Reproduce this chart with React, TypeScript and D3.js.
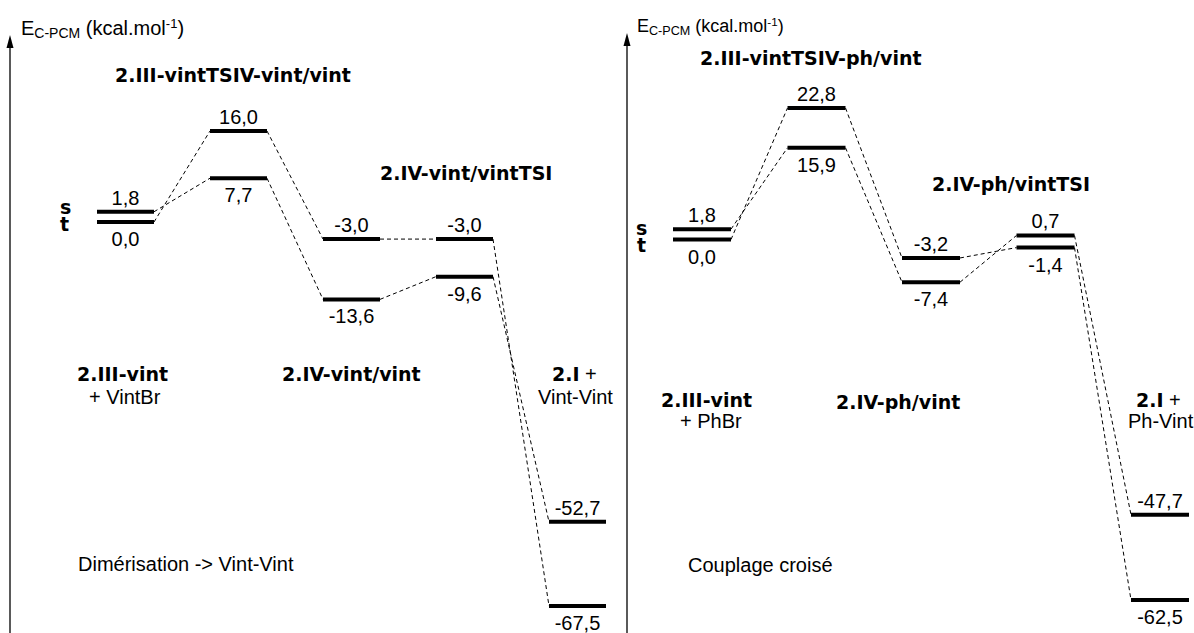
import React from "react";
import * as d3 from "d3";

// ---- data ----
const stages = [0, 1, 2, 3, 4];
const leftUpper = [1.8, 16.0, -3.0, -3.0, -52.7];
const leftLower = [0.0, 7.7, -13.6, -9.6, -67.5];
const rightUpper = [1.8, 22.8, -3.2, 0.7, -47.7];
const rightLower = [0.0, 15.9, -7.4, -1.4, -62.5];
// links from stage i (series) to stage i+1 (series)
const leftLinks: [number, string, string][] = [
  [0, "lower", "upper"], [0, "upper", "lower"],
  [1, "upper", "upper"], [1, "lower", "lower"],
  [2, "upper", "upper"], [2, "lower", "lower"],
  [3, "upper", "lower"], [3, "lower", "upper"],
];
const rightLinks: [number, string, string][] = [
  [0, "lower", "upper"], [0, "upper", "lower"],
  [1, "upper", "upper"], [1, "lower", "lower"],
  [2, "upper", "lower"], [2, "lower", "upper"],
  [3, "upper", "upper"], [3, "lower", "lower"],
];

const fmt = d3.formatLocale({ decimal: ",", thousands: " ", grouping: [3], currency: ["", ""], minus: "-" }).format(".1f");

const BOLD = "'DejaVu Sans', sans-serif";
const REG = "'Liberation Sans', Arial, sans-serif";

type Ann = { t: string; x: number; y: number; bold?: boolean; size?: number; extra?: string };

const leftAnn: Ann[] = [
  { t: "2.III-vintTSIV-vint/vint", x: 115, y: 82, bold: true },
  { t: "2.IV-vint/vintTSI", x: 380, y: 180, bold: true },
  { t: "s", x: 60, y: 214, bold: true },
  { t: "t", x: 60, y: 231, bold: true },
  { t: "2.III-vint", x: 77, y: 381, bold: true },
  { t: "+ VintBr", x: 89, y: 404 },
  { t: "2.IV-vint/vint", x: 282, y: 381, bold: true },
  { t: "2.I", x: 552, y: 381, bold: true, extra: " +" },
  { t: "Vint-Vint", x: 538, y: 404 },
  { t: "Dimérisation -> Vint-Vint", x: 78, y: 571 },
];
const rightAnn: Ann[] = [
  { t: "2.III-vintTSIV-ph/vint", x: 700, y: 65, bold: true },
  { t: "2.IV-ph/vintTSI", x: 932, y: 191, bold: true },
  { t: "s", x: 636, y: 235, bold: true },
  { t: "t", x: 637, y: 252, bold: true },
  { t: "2.III-vint", x: 661, y: 407, bold: true },
  { t: "+ PhBr", x: 680, y: 428 },
  { t: "2.IV-ph/vint", x: 836, y: 409, bold: true },
  { t: "2.I", x: 1136, y: 407, bold: true, extra: " +" },
  { t: "Ph-Vint", x: 1128, y: 428 },
  { t: "Couplage croisé", x: 688, y: 572 },
];

type PanelProps = {
  upper: number[]; lower: number[]; links: [number, string, string][];
  xRange: [number, number]; levelW: number; yDomain: [number, number]; yRange: [number, number];
  axisX: number; axisTop: number; titleX: number; titleY: number; titleScale: number; ann: Ann[];
};

function Panel(p: PanelProps) {
  const x = d3.scalePoint<number>().domain(stages).range(p.xRange);
  const y = d3.scaleLinear().domain(p.yDomain).range(p.yRange);
  const series: Record<string, number[]> = { upper: p.upper, lower: p.lower };
  const ts = p.titleScale;
  return (
    <g>
      {/* axis */}
      <line x1={p.axisX} x2={p.axisX} y1={p.axisTop + 10} y2={633} stroke="#000" strokeWidth={1.3} />
      <path d={`M${p.axisX},${p.axisTop} L${p.axisX - 3.5},${p.axisTop + 13} L${p.axisX + 3.5},${p.axisTop + 13} Z`} fill="#000" />
      <text x={p.titleX} y={p.titleY} fontFamily={REG} fontSize={20 * ts} fill="#000">
        E<tspan fontSize={14 * ts} dy={3 * ts}>C-PCM</tspan>
        <tspan dy={-3 * ts}> (kcal.mol</tspan>
        <tspan fontSize={13 * ts} dy={-7 * ts}>-1</tspan>
        <tspan dy={7 * ts}>)</tspan>
      </text>
      {/* links */}
      {p.links.map(([i, a, b], k) => (
        <line key={"l" + k}
          x1={(x(i) as number) + p.levelW} y1={y(series[a][i])}
          x2={x(i + 1) as number} y2={y(series[b][i + 1])}
          stroke="#000" strokeWidth={1} strokeDasharray="4,3" />
      ))}
      {/* levels */}
      {["upper", "lower"].map((s) =>
        stages.map((i) => {
          const v = series[s][i];
          const yy = y(v);
          const cx = (x(i) as number) + p.levelW / 2;
          return (
            <g key={s + i}>
              <line x1={x(i) as number} x2={(x(i) as number) + p.levelW} y1={yy} y2={yy} stroke="#000" strokeWidth={4} />
              <text x={cx} y={s === "upper" ? yy - 7 : yy + 24} textAnchor="middle" fontFamily={REG} fontSize={20} fill="#000">
                {fmt(v)}
              </text>
            </g>
          );
        })
      )}
      {/* annotations */}
      {p.ann.map((a, k) => (
        <text key={"a" + k} x={a.x} y={a.y} fontFamily={a.bold ? BOLD : REG}
          fontWeight={a.bold ? "bold" : "normal"} fontSize={a.bold ? 19 : 20} fill="#000">
          {a.t}
          {a.extra ? <tspan fontFamily={REG} fontWeight="normal" fontSize={20}>{a.extra}</tspan> : null}
        </text>
      ))}
    </g>
  );
}

export default function App() {
  return (
    <svg width={1194} height={633} style={{ position: "absolute", left: 0, top: 0, background: "#fff" }}>
      <rect width={1194} height={633} fill="#fff" />
      <Panel upper={leftUpper} lower={leftLower} links={leftLinks}
        xRange={[97, 549]} levelW={57} yDomain={[-67.5, 16]} yRange={[606, 131]}
        axisX={10} axisTop={35} titleX={21} titleY={35} titleScale={1} ann={leftAnn} />
      <Panel upper={rightUpper} lower={rightLower} links={rightLinks}
        xRange={[673, 1131]} levelW={58} yDomain={[-62.5, 22.8]} yRange={[600, 108]}
        axisX={627} axisTop={33} titleX={637} titleY={32} titleScale={0.9} ann={rightAnn} />
    </svg>
  );
}
